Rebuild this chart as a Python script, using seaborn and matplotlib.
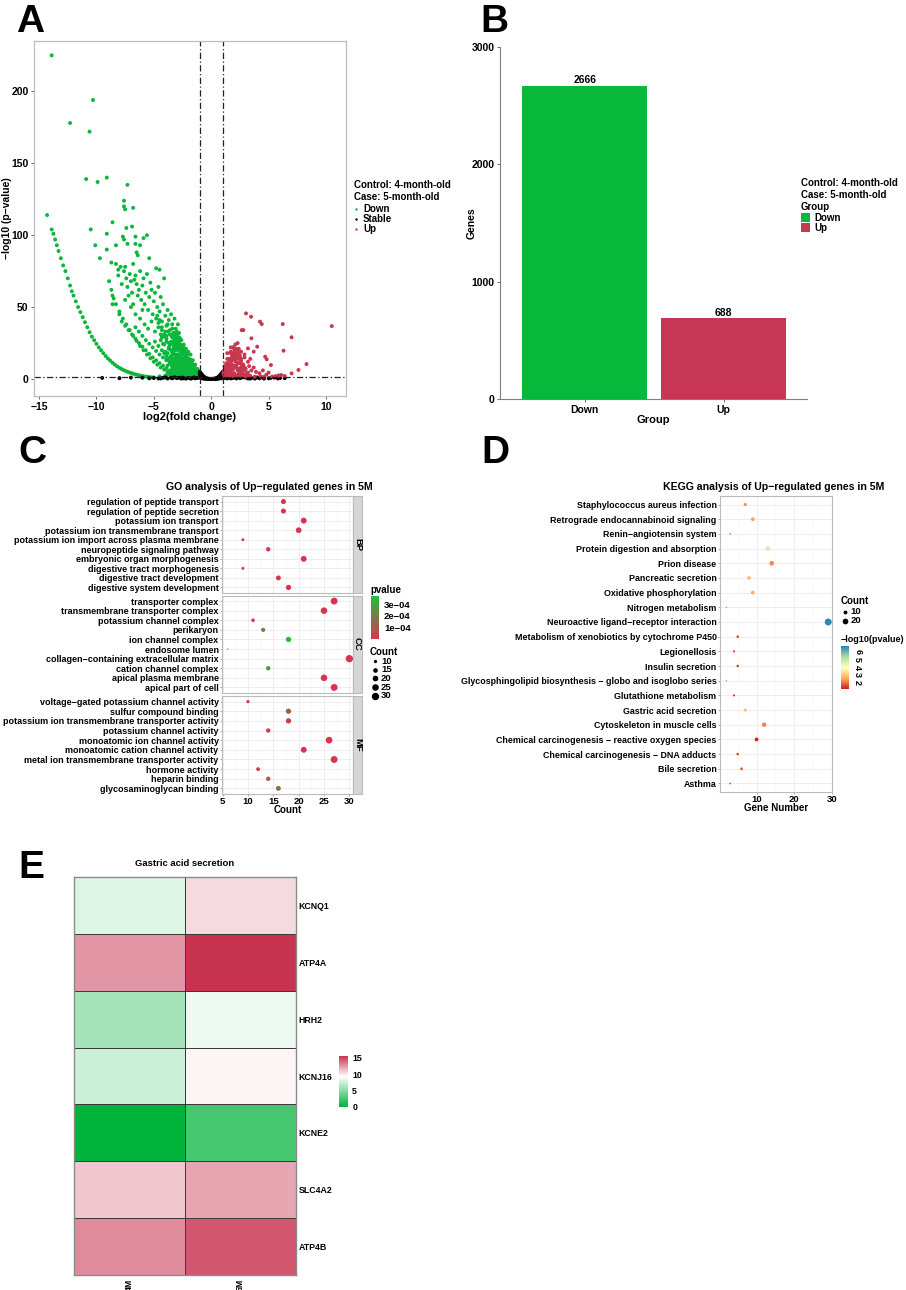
import numpy as np
import pandas as pd
import matplotlib
matplotlib.use('Agg')
import matplotlib.pyplot as plt
import seaborn as sns
from matplotlib.colors import LinearSegmentedColormap, Normalize
from matplotlib.cm import ScalarMappable

W, H = 906, 1290
sns.set_theme(style='white')
plt.rcParams['font.family'] = ['Liberation Sans', 'DejaVu Sans']
plt.rcParams['font.weight'] = 'bold'
plt.rcParams['axes.labelweight'] = 'bold'
plt.rcParams['axes.titleweight'] = 'bold'
for k in ['text.color', 'axes.labelcolor', 'xtick.color', 'ytick.color']:
    plt.rcParams[k] = 'black'

GREEN = '#0AB73B'
RED = '#C9374F'

# ---------------- Panel A data (volcano) ----------------
down_out_x = [-13.9, -10.3, -12.3, -10.6, -10.9, -9.9, -9.1, -7.3, -7.6, -7.6, -7.5, -6.8, -14.3, -10.5,
              -8.6, -7.4, -6.9, -9.1, -10.1, -9.1, -8.3, -7.7, -7.6, -6.6, -5.6, -5.9, -7.3, -6.6, -6.2,
              -9.7, -8.7, -6.4, -6.5, -5.4, -4.8, -4.5, -8.1, -8.3, -7.5]
down_out_y = [225, 194, 178, 172, 139, 137, 140, 135, 124, 120, 118, 119, 114, 104,
              109, 105, 106, 101, 93, 90, 93, 99, 97, 99, 100, 98, 94, 94, 93,
              84, 81, 86, 88, 84, 77, 76, 76, 80, 78]
down_arc1_x = [-13.9, -13.75, -13.6, -13.45, -13.3, -13.1, -12.9, -12.7, -12.5, -12.3, -12.15, -12.0, -11.8,
               -11.6, -11.4, -11.2, -11.0, -10.8, -10.6, -10.4, -10.2, -10.0, -9.8, -9.6, -9.4, -9.2, -9.0,
               -8.8, -8.6, -8.4, -8.2, -8.0, -7.8, -7.6, -7.4, -7.2, -7.0, -6.8, -6.6, -6.4, -6.2, -6.0,
               -5.8, -5.6, -5.4, -5.2, -5.0]
down_arc1_y = [104, 101, 97, 93, 89, 84, 79, 75, 70, 65, 61, 58, 54,
               50, 46.5, 43, 39.5, 36, 32.5, 29.5, 27, 24.5, 22, 20, 18, 16, 14.3,
               12.8, 11.3, 10, 8.8, 7.8, 6.9, 6.1, 5.4, 4.8, 4.2, 3.7, 3.2, 2.8, 2.4, 2.1,
               1.8, 1.6, 1.4, 1.2, 1.1]
down_arc2_x = [-8.6, -8.3, -8.0, -7.7, -7.4, -7.1, -6.8, -6.5, -6.2, -5.9, -5.6, -5.3, -5.0, -4.7, -4.4,
               -4.1, -3.8, -3.5, -3.2, -2.9, -2.6]
down_arc2_y = [58, 52, 47, 42, 38, 34, 30, 26.5, 23, 20, 17, 14.5, 12, 10, 8, 6.5, 5, 3.8, 2.8, 2, 1.4]
down_arc3_x = [-7.8, -7.5, -7.2, -6.9, -6.6, -6.3, -6.0, -5.7, -5.4, -5.1, -4.8, -4.5, -4.2, -3.9, -3.6,
               -3.3, -3.0, -2.7, -2.4]
down_arc3_y = [40, 37, 34, 31, 28, 25, 22.5, 20, 17.5, 15, 13, 11, 9.2, 7.5, 6, 4.6, 3.5, 2.5, 1.7]
down_arc4_x = [-6.6, -6.3, -6.0, -5.7, -5.4, -5.1, -4.8, -4.5, -4.2, -3.9, -3.6, -3.3, -3.0, -2.7, -2.4, -2.1]
down_arc4_y = [36, 33, 30, 27, 24.5, 22, 19.5, 17, 15, 13, 11, 9, 7.3, 5.6, 4.2, 3]
down_cloud_x = [-8.9, -8.7, -8.5, -8.6, -8.1, -7.9, -7.8, -7.6, -7.4, -7.3, -7.1, -7.0, -6.9, -6.8, -6.7,
                -6.6, -6.5, -6.4, -6.3, -6.2, -6.1, -6.0, -5.9, -5.8, -5.7, -5.6, -5.5, -5.4, -5.3, -5.2,
                -5.1, -5.0, -4.9, -4.8, -4.7, -4.6, -4.5, -4.4, -4.3, -4.2, -4.1, -4.0, -3.9, -3.8, -3.7,
                -3.6, -3.5, -3.4, -3.3, -3.2, -3.1, -3.0, -2.9, -2.8, -7.0, -6.6, -6.2, -5.8, -5.5, -7.5,
                -8.0, -6.0, -5.2, -4.9, -4.6, -4.3, -6.8, -7.2]
down_cloud_y = [68, 62, 56, 52, 72, 78, 66, 75, 70, 64, 73, 68, 60, 80, 69,
                72, 66, 58, 62, 75, 55, 65, 70, 52, 60, 73, 48, 57, 67, 62,
                45, 54, 60, 42, 50, 64, 47, 57, 40, 52, 70, 44, 37, 48, 41,
                34, 45, 38, 31, 42, 35, 28, 38, 32, 50, 45, 42, 38, 35, 55,
                45, 48, 40, 33, 36, 29, 52, 58]
down_mass_x = [-4.6, -4.3, -4.0, -3.8, -3.6, -3.4, -3.2, -3.0, -2.8,
               -4.4, -4.1, -3.9, -3.7, -3.5, -3.3, -3.1, -2.9, -2.7, -2.5, -2.3,
               -3.8, -3.5, -3.3, -3.1, -2.9, -2.7, -2.5, -2.3, -2.1, -1.9,
               -3.6, -3.4, -3.2, -3.0, -2.8, -2.6, -2.4, -2.2, -2.0, -1.8, -1.6,
               -3.4, -3.2, -3.0, -2.8, -2.6, -2.4, -2.2, -2.0, -1.8, -1.6, -1.4, -1.2,
               -3.2, -3.0, -2.8, -2.6, -2.4, -2.2, -2.0, -1.8, -1.6, -1.4, -1.2, -1.05,
               -4.5, -4.0, -3.5, -3.0, -2.7, -2.4, -2.1, -1.8, -1.5, -1.3, -1.1,
               -2.6, -2.4, -2.8, -3.0, -3.2, -3.4, -2.2, -2.0, -1.8, -1.6, -1.4, -1.2, -1.1,
               -3.3, -3.5, -3.7, -3.9, -4.1, -4.3, -4.5, -4.7, -2.5, -2.3, -2.1, -1.9, -1.7,
               -1.5, -1.3, -2.9, -2.7, -3.1, -3.3, -3.5, -3.7, -3.9, -4.1, -4.3, -4.6, -4.9,
               -2.35, -2.15, -1.95, -1.75, -2.55, -2.75, -2.95, -3.15, -1.55, -1.35, -1.15, -2.65,
               -2.45, -2.25, -2.05, -1.85, -1.65, -3.05, -3.25, -3.45, -2.85]
down_mass_y = [39, 36, 33, 38, 31, 35, 30, 33, 29,
               27, 24, 28, 22, 26, 21, 25, 23, 20, 22, 19,
               18, 16, 19, 15, 17, 16, 18, 15, 17, 14,
               12, 14, 11, 13, 12, 14, 11, 13, 12, 11, 10,
               8, 7, 9, 7.5, 8.5, 7, 9, 7.8, 8.2, 7, 6.5, 5,
               4, 5, 3.5, 5.5, 4.2, 5, 3.8, 4.5, 5, 3.5, 4, 3.2,
               1.8, 2.2, 1.6, 2.4, 1.9, 2.6, 2.0, 2.5, 2.2, 1.8, 1.6,
               27, 24, 26, 24, 27, 29, 21, 19, 17, 13, 10, 7, 5.5,
               17, 20, 25, 30, 31, 34, 41, 44, 13, 10, 9.5, 9, 12,
               8, 6, 10, 9.5, 9.8, 10.5, 10, 14, 16, 18, 20, 23, 26,
               16, 14, 12, 10, 20, 22, 25, 28, 6, 4.5, 3, 3,
               6, 6.5, 5, 6, 4, 20, 23, 25, 15]
down_mass2_x = [-3.9, -3.6, -3.3, -2.9, -2.5, -2.3, -1.9, -1.7, -1.5, -1.25,
                -3.7, -3.4, -3.1, -2.9, -2.7, -2.5, -2.3, -2.1, -1.9, -1.7, -1.5, -1.3,
                -3.8, -3.5, -3.2, -2.9, -2.6, -2.35, -2.1, -1.85, -1.6, -1.45,
                -3.9, -3.6, -3.3, -3.0, -2.75, -2.5, -2.25, -2.0, -1.75,
                -4.0, -3.7, -3.4, -3.1, -2.85, -2.6, -2.4, -2.15,
                -4.2, -3.9, -3.6, -3.35, -3.1, -2.85, -2.6,
                -4.4, -4.05, -3.75, -3.5, -3.25, -3.0]
down_mass2_y = [2.8, 3.1, 2.9, 3.3, 3.0, 3.6, 3.2, 3.4, 3.0, 2.7,
                5.2, 6.0, 5.8, 6.4, 5.6, 6.8, 5.4, 6.2, 6.0, 6.6, 5.6, 5.0,
                9.5, 11, 10, 11.5, 10.5, 11.2, 10.8, 9.6, 8.8, 8.6,
                13.5, 15, 13, 14.5, 15.5, 14.2, 16, 13.8, 13.2,
                19, 21, 18.5, 20, 21.5, 19.5, 20.5, 18,
                24.5, 26, 23.5, 25.5, 24, 26.5, 23,
                31, 29.5, 33, 30.5, 32, 29.8]
down_fill_x = [-3.3, -3.3, -3.3, -3.3, -3.3, -3.3,
               -3.0, -3.0, -3.0, -3.0, -3.0, -3.0, -3.0,
               -2.7, -2.7, -2.7, -2.7, -2.7, -2.7,
               -2.4, -2.4, -2.4, -2.4, -2.4, -2.4,
               -2.1, -2.1, -2.1, -2.1, -2.1,
               -1.8, -1.8, -1.8, -1.8, -1.8,
               -1.5, -1.5, -1.5, -1.25, -1.25,
               -3.15, -3.15, -3.15, -3.15, -3.15,
               -2.85, -2.85, -2.85, -2.85, -2.85,
               -2.55, -2.55, -2.55, -2.55, -2.55,
               -2.25, -2.25, -2.25, -2.25,
               -1.95, -1.95, -1.95, -1.95,
               -1.65, -1.65, -1.65, -1.35, -1.35]
down_fill_y = [3, 8, 14, 20, 26, 32,
               2, 7, 12, 17, 22, 27, 31,
               4, 9, 14, 19, 24, 28,
               2, 6, 10, 14, 18, 22,
               3, 7, 11, 15, 18,
               2, 5, 8, 11, 13,
               2.5, 5, 7.5, 2, 4,
               5, 11, 17, 23, 29,
               4.5, 10, 15.5, 20.5, 25.5,
               3, 8, 13, 17.5, 21.5,
               4.5, 9, 13, 17,
               3.5, 7, 10.5, 14,
               3, 6, 9.5, 3.5, 5.5]
up_x = [3.03, 3.47, 4.25, 4.4, 6.23, 10.5, 7.0, 3.5, 2.65, 2.8, 6.3, 4.7, 4.83, 5.2, 8.3, 7.6, 7.0, 6.4,
        4.0, 3.7, 3.2, 5.9, 6.1, 5.6,
        1.1, 1.1, 1.2, 1.3, 1.3, 1.4, 1.5, 1.5, 1.6, 1.6, 1.7, 1.7, 1.8, 1.8, 1.9, 1.9, 2.0, 2.0, 2.1,
        2.1, 2.2, 2.2, 2.3, 2.3, 2.4, 2.4, 2.5, 2.5, 2.6, 2.6, 2.7, 2.8, 2.9, 3.0, 3.1, 3.2, 3.3, 3.5,
        3.7, 3.9, 4.2, 4.5, 4.8, 5.0, 1.2, 1.4, 1.6, 1.8, 2.0, 2.2, 2.5, 2.8, 3.0, 3.4, 3.8, 4.3, 4.6,
        5.3, 5.8, 2.3, 1.9, 2.6, 2.9, 3.4, 1.25, 1.45, 1.65, 1.85, 2.05, 2.25, 2.45, 2.15, 1.75, 1.55,
        1.35, 1.15, 2.35, 2.55, 2.75, 1.95,
        1.05, 1.2, 1.35, 1.5, 1.65, 1.8, 1.95, 2.1, 2.25, 2.4, 2.55, 2.7, 2.85, 1.3, 1.55, 1.8, 2.05,
        2.3, 2.6, 1.7, 1.95, 2.2, 2.45, 1.45, 1.15]
up_y = [45.6, 43.3, 39.9, 38.2, 38.2, 36.8, 29, 28.3, 34, 34, 19.7, 15.5, 13.7, 9.7, 10.4, 6.3, 3.9, 2.1,
        22.5, 19, 21.3, 2.5, 2.8, 2.0,
        3, 5, 7, 4, 9, 6, 11, 3, 8, 14, 5, 12, 10, 17, 7, 15, 20, 4, 12,
        24, 9, 18, 6, 14, 21, 3, 11, 16, 8, 13, 5, 10, 15, 7, 4, 12, 9, 6,
        8, 5, 4, 6, 3, 4.5, 2, 2.2, 2.5, 2, 2.4, 2.1, 2, 2.6, 1.8, 2.2, 1.6, 1.8, 1.5,
        1.7, 2.0, 25, 22, 19, 17, 14, 4.5, 8, 5.5, 6.5, 9, 7.5, 4.8, 16, 13, 10,
        2.8, 2.5, 11, 6, 7, 3.5,
        4, 6, 8, 10, 12, 13, 16, 18, 20, 15, 12, 9, 7, 11, 13, 15, 17,
        19, 14, 19, 22, 21, 17, 5.5, 6.5]
up_fill_x = [1.15, 1.15, 1.15, 1.4, 1.4, 1.4, 1.4, 1.7, 1.7, 1.7, 1.7, 1.7, 2.0, 2.0, 2.0, 2.0,
             2.3, 2.3, 2.3, 2.3, 2.6, 2.6, 2.6, 2.9, 2.9, 2.9, 3.2, 3.2]
up_fill_y = [3, 6, 9, 4, 9, 14, 18, 3, 8, 13, 18, 22, 4, 9, 14, 18,
             3, 7, 11, 15, 4, 8, 11, 3, 6, 8, 2.5, 4.5]
stable_x = [-1.0, -0.9, -0.8, -0.7, -0.6, -0.5, -0.4, -0.3, -0.2, -0.1, 0.0, 0.1, 0.2, 0.3, 0.4, 0.5, 0.6,
            0.7, 0.8, 0.9, 1.0, -0.95, -0.85, -0.75, -0.6, -0.4, 0.4, 0.6, 0.75, 0.85, 0.95, -0.9, 0.9,
            -0.95, 0.95, -0.7, 0.7, -0.5, 0.5, -0.3, 0.3,
            -9.5, -8.0, -7.0, -6.0, -5.0, -4.0, -3.5, -3.0, -2.5, -2.0, -1.5, -1.2, 1.2, 1.5, 2.0, 2.5,
            3.0, 3.5, 4.0, 4.5, 5.0, 5.5, 6.0, -4.4, -3.2, -2.2, -1.7, 1.7, 2.8, 3.8,
            -0.8, -0.9, -1.0, 0.8, 0.9, 1.0, -0.65, 0.65,
            -4.6, -4.2, -3.8, -3.4, -2.8, -2.6, -2.4, -1.8, -1.4, 1.4, 1.8, 2.2, 2.6, 3.2, 3.4,
            4.2, 4.6, 5.2, 5.8, -5.4, 6.4]
stable_y = [3.5, 2.8, 2.2, 1.6, 1.1, 0.8, 0.5, 0.3, 0.15, 0.05, 0.02, 0.05, 0.15, 0.3, 0.5, 0.8, 1.1,
            1.6, 2.2, 2.8, 3.5, 1.5, 1.0, 0.6, 0.3, 0.1, 0.1, 0.3, 0.6, 1.0, 1.5, 0.5, 0.5,
            2.2, 2.2, 0.4, 0.4, 0.2, 0.2, 0.1, 0.1,
            0.8, 0.6, 1.0, 0.9, 0.7, 1.1, 0.9, 0.6, 1.0, 0.8, 1.1, 0.7, 0.7, 1.0, 0.9, 0.6,
            1.0, 0.8, 1.1, 0.9, 0.5, 1.0, 0.7, 0.4, 1.2, 0.3, 0.5, 0.4, 1.2, 0.3,
            3.0, 4.0, 5.0, 3.0, 4.0, 5.0, 1.8, 1.8,
            0.4, 0.9, 0.4, 0.5, 0.9, 0.3, 0.5, 0.3, 0.5, 0.4, 0.6, 0.4, 0.9, 0.4, 0.3,
            0.5, 0.3, 0.8, 0.4, 0.5, 0.6]

# ---------------- Panel B data ----------------
b_groups = ['Down', 'Up']
b_genes = [2666, 688]

# ---------------- Panel C data (GO) ----------------
go_bp_terms = ['regulation of peptide transport', 'regulation of peptide secretion', 'potassium ion transport',
               'potassium ion transmembrane transport', 'potassium ion import across plasma membrane',
               'neuropeptide signaling pathway', 'embryonic organ morphogenesis', 'digestive tract morphogenesis',
               'digestive tract development', 'digestive system development']
go_bp_count = [17, 17, 21, 20, 9, 14, 21, 9, 16, 18]
go_bp_p = [2e-6, 3e-6, 1e-6, 2e-6, 4e-6, 5e-6, 1e-6, 5e-6, 4e-6, 3e-6]
go_cc_terms = ['transporter complex', 'transmembrane transporter complex', 'potassium channel complex', 'perikaryon',
               'ion channel complex', 'endosome lumen', 'collagen\u2212containing extracellular matrix',
               'cation channel complex', 'apical plasma membrane', 'apical part of cell']
go_cc_count = [27, 25, 11, 13, 18, 6, 30, 14, 25, 27]
go_cc_p = [1e-6, 2e-6, 1e-5, 1.55e-4, 3.7e-4, 2.8e-4, 1e-6, 2.5e-4, 2e-6, 1e-6]
go_mf_terms = ['voltage\u2212gated potassium channel activity', 'sulfur compound binding',
               'potassium ion transmembrane transporter activity', 'potassium channel activity',
               'monoatomic ion channel activity', 'monoatomic cation channel activity',
               'metal ion transmembrane transporter activity', 'hormone activity', 'heparin binding',
               'glycosaminoglycan binding']
go_mf_count = [10, 18, 18, 14, 26, 21, 27, 12, 14, 16]
go_mf_p = [2e-5, 1.2e-4, 2e-5, 3e-5, 1e-5, 1e-5, 5e-6, 4e-5, 1.2e-4, 1.6e-4]
go_facets = ['BP', 'CC', 'MF']

# ---------------- Panel D data (KEGG) ----------------
kegg_terms = ['Staphylococcus aureus infection', 'Retrograde endocannabinoid signaling', 'Renin\u2212angiotensin system',
              'Protein digestion and absorption', 'Prion disease', 'Pancreatic secretion', 'Oxidative phosphorylation',
              'Nitrogen metabolism', 'Neuroactive ligand\u2212receptor interaction',
              'Metabolism of xenobiotics by cytochrome P450', 'Legionellosis', 'Insulin secretion',
              'Glycosphingolipid biosynthesis \u2212 globo and isoglobo series', 'Glutathione metabolism',
              'Gastric acid secretion', 'Cytoskeleton in muscle cells',
              'Chemical carcinogenesis \u2212 reactive oxygen species', 'Chemical carcinogenesis \u2212 DNA adducts',
              'Bile secretion', 'Asthma']
kegg_count = [7, 9, 3, 13, 14, 8, 9, 2, 29, 5, 4, 5, 2, 4, 7, 12, 10, 5, 6, 3]
kegg_nlp = [2.2, 2.4, 2.0, 4.7, 2.2, 2.6, 2.5, 1.7, 6.7, 1.5, 1.5, 1.45, 1.6, 1.4, 2.8, 2.1, 1.25, 1.5, 1.8, 1.5]

# ---------------- Panel E data (heatmap) ----------------
heat_genes = ['KCNQ1', 'ATP4A', 'HRH2', 'KCNJ16', 'KCNE2', 'SLC4A2', 'ATP4B']
heat_cols = ['4M', '5M']
heat_4m = [8.0, 12.5, 6.0, 7.4, 0.0, 11.0, 12.8]
heat_5m = [10.4, 15.5, 8.6, 9.6, 2.6, 12.0, 14.4]

# ======================================================================
fig = plt.figure(figsize=(W / 100, H / 100), dpi=100)


def ax_px(l, t, r, b, **kw):
    return fig.add_axes([l / W, 1 - b / H, (r - l) / W, (b - t) / H], **kw)


ov = fig.add_axes([0, 0, 1, 1])
ov.set_xlim(0, W)
ov.set_ylim(H, 0)
ov.axis('off')
ov.patch.set_alpha(0)
ov.set_zorder(20)

# panel letters
for lab, x, y in [('A', 16, 32), ('B', 480, 32), ('C', 18, 463), ('D', 481, 463), ('E', 18, 878)]:
    ov.text(x, y, lab, fontsize=28, fontweight='bold', va='baseline', ha='left', color='black')

# ---------------- Panel A ----------------
axA = ax_px(34, 41, 346, 396)
vdf = pd.DataFrame({
    'lfc': down_out_x + down_arc1_x + down_arc2_x + down_arc3_x + down_arc4_x + down_cloud_x + down_mass_x
           + down_mass2_x + down_fill_x + stable_x + up_x + up_fill_x,
    'nlp': down_out_y + down_arc1_y + down_arc2_y + down_arc3_y + down_arc4_y + down_cloud_y + down_mass_y
           + down_mass2_y + down_fill_y + stable_y + up_y + up_fill_y,
})
n_up = len(up_x) + len(up_fill_x)
n_down = len(vdf) - len(stable_x) - n_up
vdf['group'] = ['Down'] * n_down + ['Stable'] * len(stable_x) + ['Up'] * n_up
sns.scatterplot(data=vdf, x='lfc', y='nlp', hue='group', palette={'Down': GREEN, 'Stable': 'black', 'Up': RED},
                s=8, linewidth=0, legend=False, ax=axA)
dd = (0, (5, 2, 1, 2))
axA.axvline(-1, color='#222222', lw=0.9, ls=dd)
axA.axvline(1, color='#222222', lw=0.9, ls=dd)
axA.axhline(1.3, color='#222222', lw=0.9, ls=dd)
axA.set_xlim(-15.44, 11.74)
axA.set_ylim(-11.8, 235)
axA.set_xticks([-15, -10, -5, 0, 5, 10])
axA.set_yticks([0, 50, 100, 150, 200])
axA.tick_params(labelsize=7.5, length=2.5, width=0.6, color='#555555', pad=1.5, bottom=True, left=True)
for s in axA.spines.values():
    s.set_color('#BDBDBD')
    s.set_linewidth(0.9)
axA.set_xlabel('log2(fold change)', fontsize=8, labelpad=0)
axA.set_ylabel('\u2212log10 (p\u2212value)', fontsize=7.5)
axA.yaxis.set_label_coords((12 - 34) / 312, 0.5)
# legend A
ov.text(354, 188, 'Control: 4-month-old', fontsize=7, fontweight='bold', va='baseline')
ov.text(354, 200, 'Case: 5-month-old', fontsize=7, fontweight='bold', va='baseline')
for i, (lab, c) in enumerate([('Down', GREEN), ('Stable', 'black'), ('Up', RED)]):
    yy = 208.5 + i * 10.3
    ov.scatter([355.5], [yy], s=3, color=c, linewidth=0)
    ov.text(363, yy + 3.2, lab, fontsize=7, fontweight='bold', va='baseline')

# ---------------- Panel B ----------------
axB = ax_px(500, 47, 807, 399)
bdf = pd.DataFrame({'Group': b_groups, 'Genes': b_genes})
sns.barplot(data=bdf, x='Group', y='Genes', hue='Group', palette={'Down': '#07B83A', 'Up': '#C73753'},
            width=0.9, saturation=1, legend=False, linewidth=0, ax=axB)
for cont in axB.containers:
    axB.bar_label(cont, fontsize=7.5, fontweight='bold', padding=0.5)
axB.set_xlim(-0.61, 1.6)
axB.set_ylim(0, 3000)
axB.set_yticks([0, 1000, 2000, 3000])
axB.tick_params(labelsize=7.5, length=2.5, width=0.6, color='#555555', pad=1.5, bottom=True, left=True)
for k in ['top', 'right']:
    axB.spines[k].set_visible(False)
for k in ['left', 'bottom']:
    axB.spines[k].set_color('#7F7F7F')
    axB.spines[k].set_linewidth(0.8)
axB.set_xlabel('Group', fontsize=8, labelpad=0)
axB.set_ylabel('Genes', fontsize=7.5)
axB.yaxis.set_label_coords((477 - 500) / 307, 0.5)
ov.text(801, 186, 'Control: 4-month-old', fontsize=7, fontweight='bold', va='baseline')
ov.text(801, 198, 'Case: 5-month-old', fontsize=7, fontweight='bold', va='baseline')
ov.text(801, 210, 'Group', fontsize=7, fontweight='bold', va='baseline')
for i, (lab, c) in enumerate([('Down', '#07B83A'), ('Up', '#C73753')]):
    yy = 213 + i * 10
    ov.add_patch(plt.Rectangle((801, yy), 9, 9, color=c, lw=0))
    ov.text(814, yy + 8, lab, fontsize=7, fontweight='bold', va='baseline')

# ---------------- Panel C ----------------
go_cmap = LinearSegmentedColormap.from_list('go', ['#D9344F', '#1FBF3C'])
go_norm = Normalize(vmin=0.0, vmax=3.73e-4)
go_data = [(go_bp_terms, go_bp_count, go_bp_p), (go_cc_terms, go_cc_count, go_cc_p), (go_mf_terms, go_mf_count, go_mf_p)]
facet_px = [(496, 593), (595.5, 693), (696, 794)]
for fi, ((terms, cnt, pv), (t, b)) in enumerate(zip(go_data, facet_px)):
    ax = ax_px(222, t, 353, b)
    df = pd.DataFrame({'Term': terms, 'Count': cnt, 'pvalue': pv})
    sns.scatterplot(data=df, x='Count', y='Term', hue='pvalue', hue_norm=go_norm, palette=go_cmap,
                    size='Count', sizes=(1, 28), size_norm=(6, 30), linewidth=0, legend=False, ax=ax, zorder=3)
    ax.set_xlim(4.88, 30.72)
    ax.set_ylim(9.58, -0.58)
    ax.set_xticks([5, 10, 15, 20, 25, 30])
    ax.set_xticks([7.5, 12.5, 17.5, 22.5, 27.5], minor=True)
    ax.grid(True, which='major', color='#EBEBEB', lw=0.6)
    ax.grid(True, which='minor', axis='x', color='#F5F5F5', lw=0.4)
    ax.set_axisbelow(True)
    ax.set_xlabel('')
    ax.set_ylabel('')
    ax.tick_params(axis='y', labelsize=6.5, length=1.5, width=0.5, color='#888888', pad=1, left=True)
    for s in ax.spines.values():
        s.set_color('#BBBBBB')
        s.set_linewidth(0.8)
    if fi < 2:
        ax.tick_params(axis='x', labelbottom=False, bottom=False)
    else:
        ax.tick_params(axis='x', labelsize=6.8, length=1.5, width=0.5, color='#888888', pad=1, bottom=True)
        ax.set_xlabel('Count', fontsize=7, labelpad=-1)
    sax = ax_px(353, t, 362, b)
    sax.set_facecolor('#D6D6D6')
    sax.set_xticks([])
    sax.set_yticks([])
    for s in sax.spines.values():
        s.set_color('#BBBBBB')
        s.set_linewidth(0.8)
    sax.text(0.5, 0.5, go_facets[fi], rotation=-90, ha='center', va='center', fontsize=6.8,
             fontweight='bold', transform=sax.transAxes)
ov.text(269, 490, 'GO analysis of Up\u2212regulated genes in 5M', fontsize=7.6, fontweight='bold', ha='center',
        va='baseline')
# pvalue colorbar
ov.text(370, 593, 'pvalue', fontsize=7, fontweight='bold', va='baseline')
cax = ax_px(371, 596, 379, 639)
cb = fig.colorbar(ScalarMappable(norm=go_norm, cmap=go_cmap), cax=cax)
cb.set_ticks([1e-4, 2e-4, 3e-4])
cb.set_ticklabels(['1e\u221204', '2e\u221204', '3e\u221204'])
cb.outline.set_visible(False)
cax.tick_params(labelsize=6.8, length=2, color='white', pad=1.5)
# size legend
ov.text(370, 655, 'Count', fontsize=7, fontweight='bold', va='baseline')
for i, v in enumerate([10, 15, 20, 25, 30]):
    yy = 661 + i * 8.7
    ov.scatter([375], [yy], s=1 + (v - 6) / 24 * 27, color='black', linewidth=0)
    ov.text(381, yy + 2.6, str(v), fontsize=6.8, fontweight='bold', va='baseline')

# ---------------- Panel D ----------------
axD = ax_px(720, 496, 832, 792)
kdf = pd.DataFrame({'Term': kegg_terms, 'Count': kegg_count, 'nlp': kegg_nlp})
kegg_cmap = LinearSegmentedColormap.from_list('kg', ['#D7191C', '#FDAE61', '#FFFFBF', '#ABDDA4', '#2B83BA'])
kegg_norm = Normalize(vmin=1.12, vmax=6.75)
sns.scatterplot(data=kdf, x='Count', y='Term', hue='nlp', hue_norm=kegg_norm, palette=kegg_cmap,
                size='Count', sizes=(0.7, 25), size_norm=(2, 29), linewidth=0, legend=False, ax=axD, zorder=3)
axD.set_xlim(0.3, 30.0)
axD.set_ylim(19.58, -0.58)
axD.set_xticks([10, 20, 30])
axD.set_xticks([5, 15, 25], minor=True)
axD.grid(True, which='major', color='#EBEBEB', lw=0.6)
axD.grid(True, which='minor', axis='x', color='#F5F5F5', lw=0.4)
axD.set_axisbelow(True)
axD.tick_params(axis='y', labelsize=6.4, length=1.5, width=0.5, color='#888888', pad=1, left=True)
axD.tick_params(axis='x', labelsize=6.8, length=1.5, width=0.5, color='#888888', pad=1, bottom=True)
for s in axD.spines.values():
    s.set_color('#BBBBBB')
    s.set_linewidth(0.8)
axD.set_ylabel('')
axD.set_xlabel('Gene Number', fontsize=7, labelpad=-1)
ov.text(774, 490, 'KEGG analysis of Up\u2212regulated genes in 5M', fontsize=7.6, fontweight='bold', ha='center',
        va='baseline')
ov.text(841, 604, 'Count', fontsize=7, fontweight='bold', va='baseline')
for i, v in enumerate([10, 20]):
    yy = 611.5 + i * 9
    ov.scatter([845], [yy], s=0.7 + (v - 2) / 27 * 24.3, color='black', linewidth=0)
    ov.text(850.5, yy + 2.8, str(v), fontsize=6.8, fontweight='bold', va='baseline')
ov.text(841, 642, '\u2212log10(pvalue)', fontsize=6.5, fontweight='bold', va='baseline')
cax2 = ax_px(841, 646, 849, 689)
cb2 = fig.colorbar(ScalarMappable(norm=kegg_norm, cmap=kegg_cmap), cax=cax2)
cb2.set_ticks([2, 3, 4, 5, 6])
cb2.outline.set_visible(False)
cax2.tick_params(labelsize=6.5, length=2, color='white', pad=1)
for tl in cax2.get_yticklabels():
    tl.set_rotation(-90)
    tl.set_va('center')

# ---------------- Panel E ----------------
axE = ax_px(74, 877, 296, 1275)
hdf = pd.DataFrame({'4M': heat_4m, '5M': heat_5m}, index=heat_genes)[heat_cols]
heat_cmap = LinearSegmentedColormap.from_list('hm', [(0.0, '#00B33A'), (9.3 / 15.5, '#FFFFFF'), (1.0, '#C8334F')])
caxE = ax_px(339, 1056, 348, 1107)
sns.heatmap(hdf, cmap=heat_cmap, vmin=0, vmax=15.5, linewidths=0.6, linecolor='#3A3A3A', ax=axE, cbar_ax=caxE)
for s in axE.spines.values():
    s.set_visible(True)
    s.set_color('#8A8A8A')
    s.set_linewidth(1.0)
axE.yaxis.tick_right()
axE.tick_params(axis='y', labelsize=6.3, length=0, pad=2, labelrotation=0)
axE.tick_params(axis='x', labelsize=6.3, length=0, pad=3, labelrotation=90)
axE.set_xlabel('')
axE.set_ylabel('')
for tl in axE.get_yticklabels():
    tl.set_fontweight('bold')
for tl in axE.get_xticklabels():
    tl.set_fontweight('bold')
caxE.set_yticks([0, 5, 10, 15])
caxE.tick_params(labelsize=6.3, length=2, color='white', pad=1)
for s in caxE.spines.values():
    s.set_visible(False)
ov.text(185, 866, 'Gastric acid secretion', fontsize=6.8, fontweight='bold', ha='center', va='baseline')

fig.savefig('out.png', dpi=100)
